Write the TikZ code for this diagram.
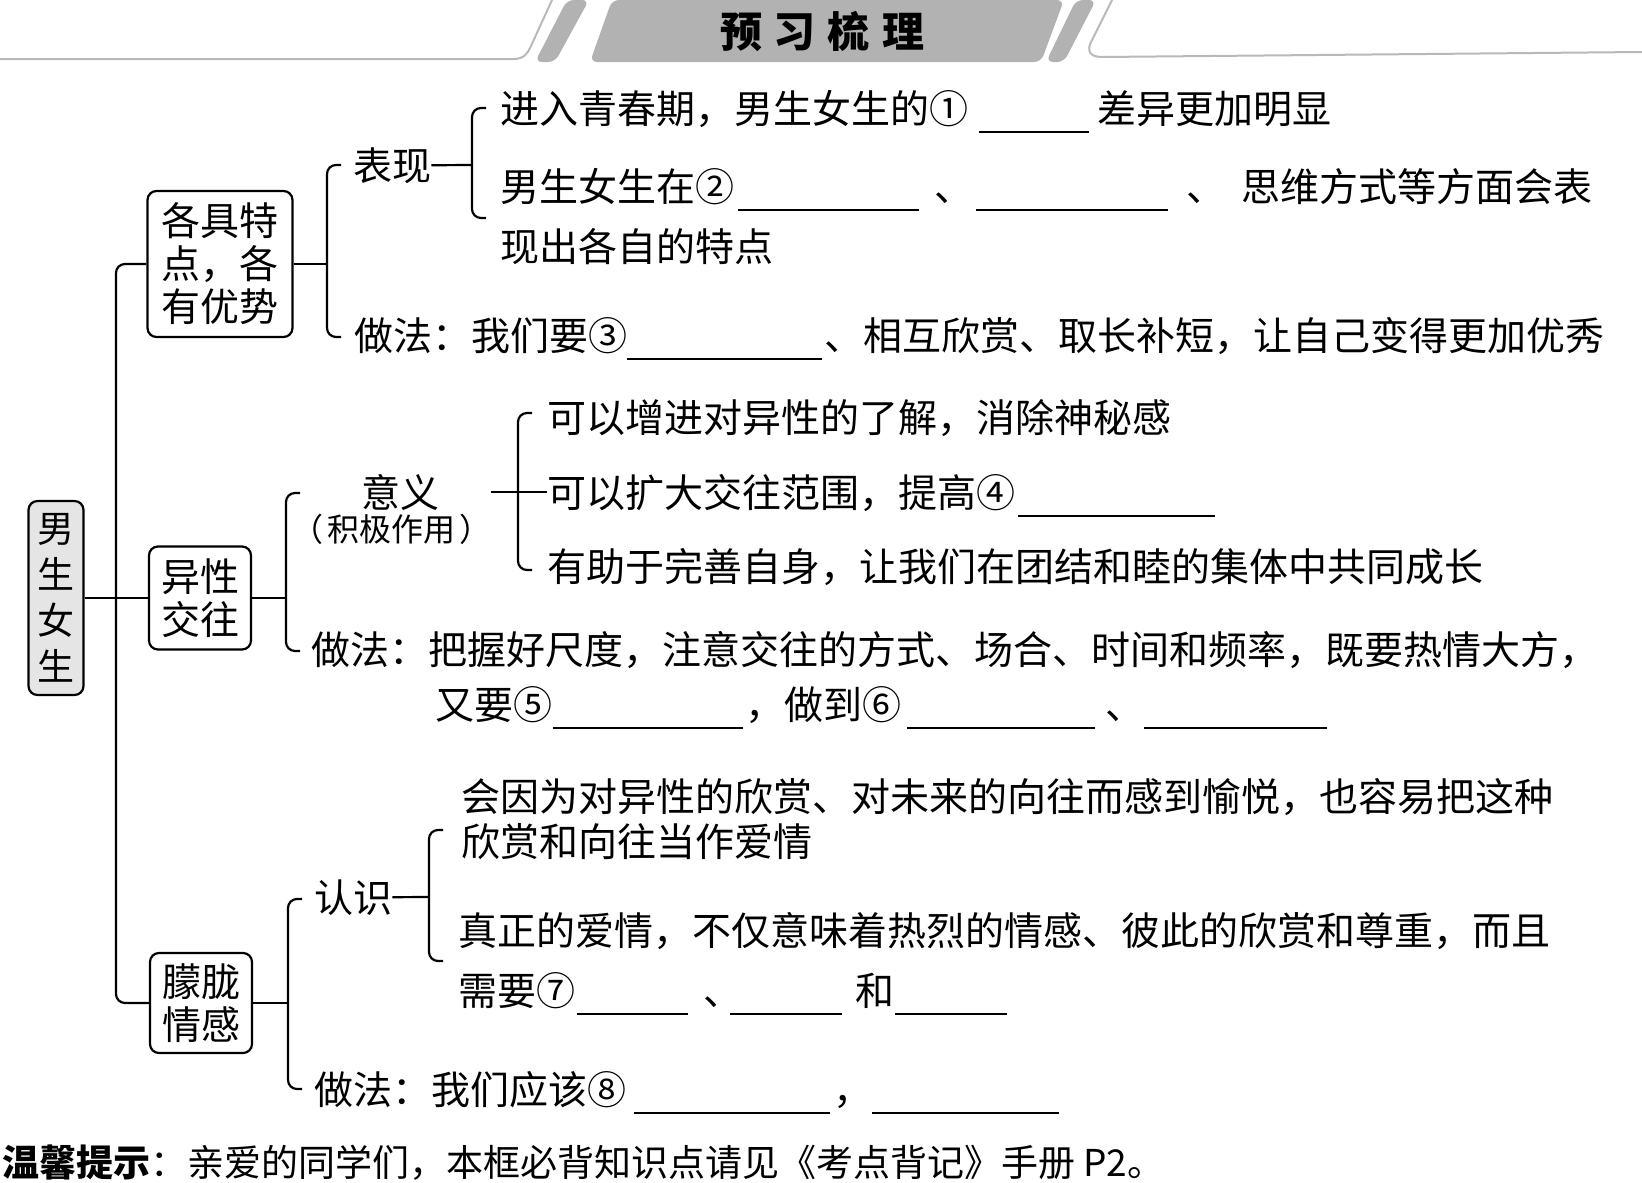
\documentclass[tikz,border=0pt]{standalone}
\usepackage{fontspec}
\setmainfont{Noto Sans CJK SC}
\usetikzlibrary{positioning}

\newcommand{\blank}[1]{\rule[-10pt]{#1}{1.8pt}}

\begin{document}
\begin{tikzpicture}[
  x=1pt, y=-1pt,
  box/.style={draw, line width=2.2pt, rounded corners=9pt, align=center, inner sep=0pt, font=\fontsize{39pt}{43pt}\selectfont},
  rootbox/.style={box, fill=gray!20, font=\fontsize{37pt}{46pt}\selectfont},
  txt/.style={anchor=base west, inner sep=0pt, font=\fontsize{39pt}{43pt}\selectfont},
  note/.style={inner sep=0pt, font=\fontsize{32pt}{36pt}\selectfont},
  link/.style={line width=2.2pt},
  brace/.style={line width=2.2pt, rounded corners=9pt},
  banner/.style={fill=gray!60, draw=none, rounded corners=7pt},
  rim/.style={draw=gray!55, line width=2pt},
]
\useasboundingbox (0,0) rectangle (1642,1183);

% Header
\draw[rim] (0,59) -- (514,59) .. controls (524,59) and (528,53) .. (531,46) -- (552,0);
\draw[rim] (1642,52) -- (1102,57) .. controls (1089,57) and (1087,50) .. (1091,42) -- (1112,0);
\fill[banner] (535,62) -- (555,62) -- (589,0) -- (567,0) -- cycle;
\fill[banner] (590,62) -- (1041,62) -- (1064,0) -- (612,0) -- cycle;
\fill[banner] (1046,62) -- (1064,62) -- (1096,0) -- (1076,0) -- cycle;
\node[font=\fontsize{42pt}{46pt}\selectfont\bfseries] (title) at (822,32) {预\hspace{12pt}习\hspace{12pt}梳\hspace{12pt}理};

% Boxes
\node[rootbox, minimum width=55pt, minimum height=194pt] (root) at (56,598) {男\\生\\女\\生};
\node[box, minimum width=145pt, minimum height=146pt] (tedian) at (220,264) {各具特\\点，各\\有优势};
\node[box, minimum width=102pt, minimum height=103pt] (jiaowang) at (200,598) {异性\\交往};
\node[box, minimum width=102pt, minimum height=100pt] (menglong) at (201,1003) {朦胧\\情感};

\coordinate (trunk) at (116,598);
\draw[brace] (tedian.west) -- (tedian.west -| trunk) -- (menglong.west -| trunk) -- (menglong.west);
\draw[link] (root.east) -- (jiaowang.west);

% Brackets
\foreach \bx/\ya/\yb in {327/165/337, 472/108/218, 286/493/651, 518/413/570, 288/899/1089, 429/830/961}
  \draw[brace] (\bx+14,\ya) -- (\bx,\ya) -- (\bx,\yb) -- (\bx+14,\yb);

\coordinate (braceA) at (327,264);
\coordinate (braceA2) at (472,165);
\coordinate (braceB) at (286,598);
\coordinate (braceC) at (288,1003);
\coordinate (braceC2) at (429,897);

% Each have their own traits
\node[txt] (biaoxian) at (353,180) {表现};
\node[txt] (a1) at (500,123) {进入青春期，男生女生的①\hspace{11pt}\blank{110pt}\hspace{8pt}差异更加明显};
\node[txt] (a2) at (500,201) {男生女生在②\hspace{4pt}\blank{181pt}\hspace{15pt}、\hspace{3pt}\blank{192pt}\hspace{18pt}、\hspace{16pt}思维方式等方面会表};
\node[txt] (a3) at (500,261) {现出各自的特点};
\node[txt] (zuofaA) at (354,350) {做法：我们要③\blank{195pt}\hspace{2pt}、相互欣赏、取长补短，让自己变得更加优秀};

\draw[link] (tedian.east) -- (braceA);
\draw[link] (biaoxian.east) -- (braceA2);

% Opposite-sex friendship
\node[txt] (yiyi) at (361,507) {意义};
\node[note] (jiji) at (391,529) {（\hspace{4pt}积极作用\hspace{4pt}）};
\node[txt] (b1) at (547,432) {可以增进对异性的了解，消除神秘感};
\node[txt] (b2) at (547,507) {可以扩大交往范围，提高④\hspace{3pt}\blank{197pt}};
\node[txt] (b3) at (547,581) {有助于完善自身，让我们在团结和睦的集体中共同成长};
\node[txt] (zuofaB) at (311,664) {做法：把握好尺度，注意交往的方式、场合、时间和频率，既要热情大方，};
\node[txt] (zuofaB2) at (435,719) {又要⑤\hspace{1pt}\blank{190pt}\hspace{2pt}，做到⑥\hspace{6pt}\blank{188pt}\hspace{10pt}、\blank{183pt}};

\draw[link] (jiaowang.east) -- (braceB);
\draw[link] (yiyi.east -| jiji.east) -- (yiyi.east -| b2.west);

% Hazy feelings
\node[txt] (renshi) at (314,912) {认识};
\node[txt] (c1) at (461,811) {会因为对异性的欣赏、对未来的向往而感到愉悦，也容易把这种};
\node[txt] (c2) at (461,856) {欣赏和向往当作爱情};
\node[txt] (c3) at (458,945) {真正的爱情，不仅意味着热烈的情感、彼此的欣赏和尊重，而且};
\node[txt] (c4) at (458,1005) {需要⑦\hspace{2pt}\blank{111pt}\hspace{15pt}、\hspace{-12pt}\blank{112pt}\hspace{13pt}和\hspace{1pt}\blank{112pt}};
\node[txt] (zuofaC) at (314,1104) {做法：我们应该⑧\hspace{8pt}\blank{196pt}\hspace{3pt}，\blank{187pt}};

\draw[link] (menglong.east) -- (braceC);
\draw[link] (renshi.east) -- (braceC2);

% Footer
\node[txt, font=\fontsize{37pt}{40pt}\selectfont] (tip) at (2,1176) {{\bfseries 温馨提示}：亲爱的同学们，本框必背知识点请见《考点背记》手册 P2。};

\end{tikzpicture}
\end{document}
